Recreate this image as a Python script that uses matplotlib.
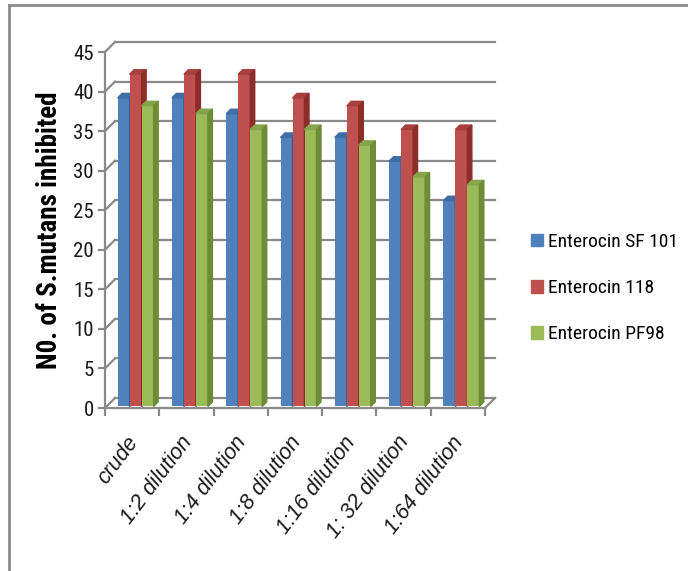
import numpy as np
import matplotlib.pyplot as plt
from matplotlib import font_manager
from matplotlib.patches import Polygon, Patch
from matplotlib.lines import Line2D
from matplotlib.transforms import ScaledTranslation

categories = ['crude', '1:2 dilution', '1:4 dilution', '1:8 dilution',
              '1:16 dilution', '1: 32 dilution', '1:64 dilution']
sf101 = [39, 39, 37, 34, 34, 31, 26]
e118 = [42, 42, 42, 39, 38, 35, 35]
pf98 = [38, 37, 35, 35, 33, 29, 28]
series_names = ['Enterocin SF 101', 'Enterocin 118', 'Enterocin PF98']

face = ['#4F81BD', '#C0504D', '#9BBB59']
top = ['#3F6DA6', '#A8403D', '#86A54A']
side = ['#375E8F', '#8C2D2A', '#6E8B35']
grid_c = '#898989'

ttf = font_manager.fontManager.ttflist
names = {f.name for f in ttf}
fam = 'Roboto'
for cand in ['Liberation Sans Narrow', 'Roboto Condensed', 'DejaVu Sans Condensed']:
    if cand in names:
        fam = cand
        break
plt.rcParams['font.family'] = [fam, 'DejaVu Sans']
plt.rcParams['font.stretch'] = 'condensed'

W, H = 688, 571
fig = plt.figure(figsize=(W / 100, H / 100), dpi=100)
ax = fig.add_axes([105 / W, 1 - 408 / H, 380 / W, 356 / H])
ax.set_xlim(-0.5, 6.5)
ax.set_ylim(0, 45)

# pixel -> data conversions
px_x = 7.0 / 380
px_y = 45.0 / 356
wall_dx, wall_dy = 10 * px_x, 10 * px_y
bar_dx, bar_dy = 4.5 * px_x, 4.5 * px_y

# back wall gridlines + left wall diagonals
for v in range(0, 50, 5):
    ax.plot([-0.5 + wall_dx, 6.5 + wall_dx], [v + wall_dy, v + wall_dy],
            color=grid_c, lw=1.6, clip_on=False, zorder=1)
    ax.plot([-0.5, -0.5 + wall_dx], [v, v + wall_dy],
            color=grid_c, lw=1.6, clip_on=False, zorder=1)
# floor right edge
ax.plot([6.5, 6.5 + wall_dx], [0, wall_dy], color=grid_c, lw=1.6, clip_on=False, zorder=1)

# bars
bw = 12 * px_x
shift = 3.5 * px_x
base = 0.2
x = np.arange(len(categories))
for i, vals in enumerate([sf101, e118, pf98]):
    xs = x + shift + (i - 1) * bw
    ax.bar(xs, vals, width=bw, bottom=base, color=face[i], zorder=3 + i, clip_on=False)
    for xc, v in zip(xs, vals):
        x0, x1, h = xc - bw / 2, xc + bw / 2, v + base
        ax.add_patch(Polygon([(x0, h), (x1, h), (x1 + bar_dx, h + bar_dy), (x0 + bar_dx, h + bar_dy)],
                             closed=True, color=top[i], zorder=3 + i, clip_on=False))
        ax.add_patch(Polygon([(x1, base), (x1 + bar_dx, base + bar_dy), (x1 + bar_dx, h + bar_dy), (x1, h)],
                             closed=True, color=side[i], zorder=3 + i, clip_on=False))

# axes styling
for s in ['top', 'right']:
    ax.spines[s].set_visible(False)
for s in ['left', 'bottom']:
    ax.spines[s].set_color(grid_c)
    ax.spines[s].set_linewidth(1.6)
ax.spines['bottom'].set_zorder(7)

ax.set_yticks(range(0, 50, 5))
ax.tick_params(axis='y', direction='out', length=5, width=1.6, color=grid_c,
               labelsize=15, pad=3, labelcolor='#1a1a1a')
ax.set_xticks(np.arange(-0.5, 7, 1))
ax.set_xticklabels([])
ax.tick_params(axis='x', which='major', direction='out', length=6, width=1.6, color=grid_c)
ax.set_xticks(x, minor=True)
ax.set_xticklabels(categories, minor=True, rotation=53, ha='right', va='center',
                   rotation_mode='anchor', color='#1a1a1a')
ax.tick_params(axis='x', which='minor', length=0, pad=22)
off = ScaledTranslation(2 / 100, 0, fig.dpi_scale_trans)
for lbl in ax.get_xticklabels(minor=True):
    # italic face: use Liberation Sans, the condensed family has none
    lbl.set_fontproperties(font_manager.FontProperties(family='Liberation Sans', style='italic',
                                                       stretch='normal', size=15.5))
    lbl.set_transform(lbl.get_transform() + off)

fig.text(50 / W, 1 - 230 / H, 'N0. of S.mutans inhibited', rotation=90,
         ha='center', va='center', fontsize=19.5, fontweight='bold')

handles = [Patch(color=c) for c in face]
fig.legend(handles, series_names, loc='upper left', bbox_to_anchor=(531 / W, 1 - 233 / H),
           frameon=False, fontsize=14, handlelength=0.6, handleheight=0.6,
           handletextpad=0.3, labelspacing=1.45, borderpad=0, borderaxespad=0)

# outer chart border (top and left visible)
fig.add_artist(Line2D([8.5 / W, 1], [1 - 4.5 / H, 1 - 4.5 / H], color='#8a8a8a', lw=2))
fig.add_artist(Line2D([8.5 / W, 8.5 / W], [0, 1 - 4.5 / H], color='#8a8a8a', lw=2))

fig.savefig('out.png', dpi=100)
